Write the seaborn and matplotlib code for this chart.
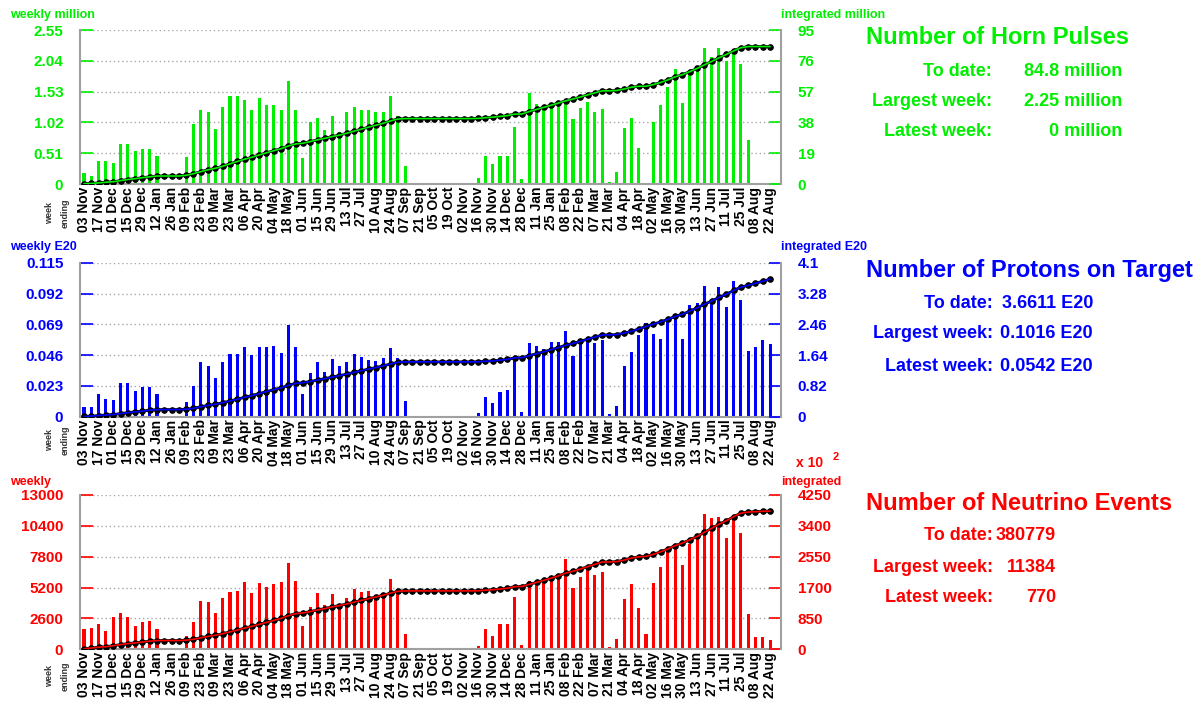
import matplotlib
matplotlib.use("Agg")
import matplotlib.pyplot as plt
import numpy as np
import pandas as pd
import seaborn as sns

# Week-ending dates, labelled every second week (03 Nov 2002 .. 22 Aug 2004)
week_labels = [
    "03 Nov", "17 Nov", "01 Dec", "15 Dec", "29 Dec", "12 Jan", "26 Jan", "09 Feb",
    "23 Feb", "09 Mar", "23 Mar", "06 Apr", "20 Apr", "04 May", "18 May", "01 Jun",
    "15 Jun", "29 Jun", "13 Jul", "27 Jul", "10 Aug", "24 Aug", "07 Sep", "21 Sep",
    "05 Oct", "19 Oct", "02 Nov", "16 Nov", "30 Nov", "14 Dec", "28 Dec", "11 Jan",
    "25 Jan", "08 Feb", "22 Feb", "07 Mar", "21 Mar", "04 Apr", "18 Apr", "02 May",
    "16 May", "30 May", "13 Jun", "27 Jun", "11 Jul", "25 Jul", "08 Aug", "22 Aug",
]

# Horn pulses per week (million)
horn_weekly = [
    0.19, 0.13, 0.38, 0.38, 0.34, 0.67, 0.67, 0.55, 0.58, 0.58,
    0.46, 0.00, 0.00, 0.00, 0.44, 1.00, 1.23, 1.19, 0.91, 1.28,
    1.46, 1.45, 1.39, 1.23, 1.42, 1.31, 1.31, 1.23, 1.70, 1.23,
    0.43, 1.03, 1.10, 0.89, 1.12, 0.86, 1.20, 1.28, 1.23, 1.23,
    1.20, 1.20, 1.45, 1.12, 0.30, 0.00, 0.00, 0.00, 0.00, 0.00,
    0.00, 0.00, 0.00, 0.00, 0.10, 0.46, 0.33, 0.46, 0.46, 0.94,
    0.08, 1.50, 1.33, 1.27, 1.30, 1.36, 1.38, 1.07, 1.26, 1.36,
    1.19, 1.25, 0.03, 0.20, 0.92, 1.10, 0.59, 0.00, 1.02, 1.31,
    1.60, 1.90, 1.34, 1.85, 1.95, 2.25, 2.10, 2.25, 2.03, 2.19,
    1.99, 0.73, 0.00, 0.00, 0.00,
]

# Protons on target per week (E20)
pot_weekly = [
    0.0075, 0.0075, 0.0167, 0.0134, 0.0122, 0.0254, 0.0254, 0.0192, 0.0224, 0.0224,
    0.0172, 0.0000, 0.0000, 0.0000, 0.0107, 0.0229, 0.0408, 0.0376, 0.0291, 0.0411,
    0.0468, 0.0466, 0.0518, 0.0461, 0.0518, 0.0523, 0.0528, 0.0478, 0.0682, 0.0518,
    0.0169, 0.0324, 0.0411, 0.0336, 0.0433, 0.0381, 0.0408, 0.0466, 0.0448, 0.0423,
    0.0418, 0.0436, 0.0515, 0.0438, 0.0117, 0.0000, 0.0000, 0.0000, 0.0000, 0.0000,
    0.0000, 0.0000, 0.0000, 0.0000, 0.0025, 0.0144, 0.0100, 0.0184, 0.0197, 0.0418,
    0.0037, 0.0548, 0.0528, 0.0503, 0.0560, 0.0558, 0.0640, 0.0453, 0.0565, 0.0585,
    0.0548, 0.0573, 0.0020, 0.0082, 0.0378, 0.0486, 0.0610, 0.0697, 0.0615, 0.0580,
    0.0709, 0.0759, 0.0580, 0.0834, 0.0847, 0.0979, 0.0859, 0.0971, 0.0822, 0.1016,
    0.0872, 0.0493, 0.0523, 0.0573, 0.0542,
]

# Neutrino events per week
nu_weekly = [
    1685, 1825, 2106, 1572, 2752, 3033, 2696, 1994, 2331, 2387,
    1713, 0, 0, 0, 1123, 2331, 4072, 3959, 3089, 4352,
    4858, 4942, 5644, 4717, 5560, 5279, 5476, 5672, 7301, 5728,
    1994, 3594, 4717, 3735, 4661, 3594, 4296, 5082, 4830, 4914,
    4577, 4717, 5897, 4774, 1292, 0, 0, 0, 0, 0,
    0, 0, 0, 0, 281, 1685, 1123, 2106, 2134, 4380,
    365, 5784, 5560, 5700, 6037, 6121, 7600, 5139, 6121, 6683,
    6234, 6543, 168, 842, 4212, 5476, 3510, 1292, 5560, 6900,
    8200, 8900, 7076, 8900, 9400, 11384, 11100, 11120, 9400, 11300,
    9800, 2976, 1015, 1011, 770,
]

sns.set_theme(style="white")
plt.rcParams["font.family"] = ["Liberation Sans", "DejaVu Sans"]

W, H = 1202, 706
fig = plt.figure(figsize=(W / 100, H / 100), dpi=100)
fig.patch.set_facecolor("white")


def fx(x):
    return x / W


def fy(y):
    return 1 - y / H


GREEN, BLUE, RED = "#00ee00", "#0000ff", "#ff0000"
SPINE = "#a0a0a0"

panels = [
    dict(weekly=horn_weekly, integ_div=1.0, colour=GREEN, top=30, bottom=184,
         left_max=2.55, left_labels=["0", "0.51", "1.02", "1.53", "2.04", "2.55"],
         right_max=95, right_labels=["0", "19", "38", "57", "76", "95"],
         left_title=("weekly million", 15), right_title=("integrated million", 15),
         we_y=213,
         title=("Number of Horn Pulses", 37),
         rows=[("To date:", "84.8 million", 71), ("Largest week:", "2.25 million", 101),
               ("Latest week:", "0 million", 132)],
         lab_x=992, val_x=1122),
    dict(weekly=pot_weekly, integ_div=1.0, colour=BLUE, top=262.7, bottom=416.7,
         left_max=0.115, left_labels=["0", "0.023", "0.046", "0.069", "0.092", "0.115"],
         right_max=4.1, right_labels=["0", "0.82", "1.64", "2.46", "3.28", "4.1"],
         left_title=("weekly E20", 247), right_title=("integrated E20", 247),
         we_y=440,
         title=("Number of Protons on Target", 270),
         rows=[("To date:", "3.6611 E20", 303), ("Largest week:", "0.1016 E20", 334),
               ("Latest week:", "0.0542 E20", 366)],
         lab_x=993, val_x=1093),
    dict(weekly=nu_weekly, integ_div=100.0, colour=RED, top=495, bottom=649.3,
         left_max=13000, left_labels=["0", "2600", "5200", "7800", "10400", "13000"],
         right_max=4250, right_labels=["0", "850", "1700", "2550", "3400", "4250"],
         left_title=("weekly", 482), right_title=("integrated", 482),
         we_y=676,
         title=("Number of Neutrino Events", 503),
         rows=[("To date:", "380779", 536), ("Largest week:", "11384", 567),
               ("Latest week:", "770", 597)],
         lab_x=993, val_x=1056),
]

weeks = np.arange(len(horn_weekly))

for p in panels:
    c = p["colour"]
    ax = fig.add_axes([fx(80), fy(p["bottom"]), fx(781) - fx(80),
                       (p["bottom"] - p["top"]) / H])
    ax.set_facecolor("white")

    df = pd.DataFrame({"week": weeks, "weekly": p["weekly"]})
    df["integrated"] = df["weekly"].cumsum() / p["integ_div"]

    sns.barplot(data=df, x="week", y="weekly", ax=ax, color=c, saturation=1,
                native_scale=True, width=0.42, errorbar=None, linewidth=0)

    ax2 = ax.twinx()
    sns.lineplot(data=df, x="week", y="integrated", ax=ax2, color="black",
                 lw=2.0, marker="o", markersize=4, markeredgecolor="black",
                 markerfacecolor="black")
    sns.lineplot(data=df, x="week", y="integrated", ax=ax2, color=c, lw=1.2)

    ax.set_xlim(-0.55, 95.5)
    ax2.set_xlim(-0.55, 95.5)
    ax.set_ylim(0, p["left_max"])
    ax2.set_ylim(0, p["right_max"])

    ax.set_yticks(np.linspace(0, p["left_max"], 6))
    ax.set_yticklabels(p["left_labels"], fontweight="bold", fontsize=11)
    ax2.set_yticks(np.linspace(0, p["right_max"], 6))
    ax2.set_yticklabels(p["right_labels"], fontweight="bold", fontsize=11)
    ax.tick_params(axis="y", direction="in", length=9, width=1.2, colors=c, pad=12)
    ax2.tick_params(axis="y", direction="in", length=9, width=1.2, colors=c, pad=12)

    ax.set_xticks(weeks[::2])
    ax.set_xticklabels(week_labels, rotation=90, fontweight="bold", fontsize=10,
                       color="black")
    ax.tick_params(axis="x", length=0, pad=2)

    ax.set_xlabel("")
    ax.set_ylabel("")
    ax2.set_ylabel("")
    ax2.set_xlabel("")

    ax.grid(axis="y", linestyle=(0, (1, 2)), color="#a8a8a8", lw=1)
    ax.grid(axis="x", visible=False)
    ax.set_axisbelow(True)
    ax2.grid(False)

    for s in ("top", "right"):
        ax.spines[s].set_visible(False)
    for s in ("top", "left", "bottom"):
        ax2.spines[s].set_visible(False)
    for s in ("left", "bottom"):
        ax.spines[s].set_color(SPINE)
        ax.spines[s].set_linewidth(1.5)
    ax2.spines["right"].set_color(SPINE)
    ax2.spines["right"].set_linewidth(1.5)

    # axis captions
    fig.text(fx(10), fy(p["left_title"][1]), p["left_title"][0], color=c,
             fontweight="bold", fontsize=9, ha="left", va="center")
    fig.text(fx(781), fy(p["right_title"][1]), p["right_title"][0], color=c,
             fontweight="bold", fontsize=9, ha="left", va="center")
    fig.text(fx(50), fy(p["we_y"]), "week", rotation=90, fontsize=6.5,
             fontweight="bold", color="#333333", ha="center", va="center")
    fig.text(fx(65), fy(p["we_y"]), "ending", rotation=90, fontsize=6.5,
             fontweight="bold", color="#333333", ha="center", va="center")

    # summary block
    fig.text(fx(866), fy(p["title"][1]), p["title"][0], color=c, fontweight="bold",
             fontsize=17, ha="left", va="center")
    for lab, val, y in p["rows"]:
        fig.text(fx(p["lab_x"]), fy(y), lab, color=c, fontweight="bold",
                 fontsize=13, ha="right", va="center")
        fig.text(fx(p["val_x"]), fy(y), val, color=c, fontweight="bold",
                 fontsize=13, ha="right", va="center")

# scale factor for the integrated neutrino axis
fig.text(fx(796), fy(463), "x 10", color=RED, fontweight="bold", fontsize=10,
         ha="left", va="center")
fig.text(fx(833), fy(457), "2", color=RED, fontweight="bold", fontsize=8,
         ha="left", va="center")

fig.savefig("out.png", dpi=100, facecolor="white")
